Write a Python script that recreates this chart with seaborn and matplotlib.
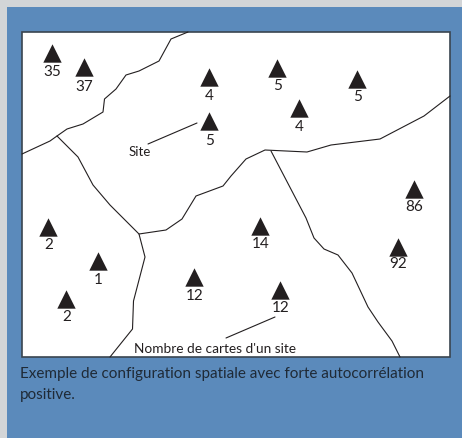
import matplotlib.pyplot as plt
import pandas as pd
import seaborn as sns
from matplotlib.patches import Rectangle

# all positions are in picture pixels, y pointing down
SITE_X = [52, 84, 209, 209, 277, 299, 357, 414, 48, 98, 66, 194, 260, 280, 398]
SITE_Y = [54, 68, 78, 122, 69, 109, 80, 190, 228, 262, 300, 278, 227, 291, 248]
SITE_COUNT = ["35", "37", "4", "5", "5", "4", "5", "86", "2", "1", "2", "12", "14", "12", "92"]
LABEL_Y = [72, 87, 96, 141, 86, 127, 97, 207, 245, 280, 317, 296, 244, 308, 264]

BORDER_A_X = [22, 50, 57, 67, 83, 103, 104.5, 116, 126, 139, 159, 171, 188]
BORDER_A_Y = [155, 142, 137, 130, 125, 113, 100, 90, 76, 72, 62, 40, 33]
BORDER_B_X = [57, 78, 93, 110, 123, 139, 166, 182, 196, 223, 231, 246, 265, 307, 331, 380, 424, 450]
BORDER_B_Y = [137, 158, 186, 206, 219, 235, 231, 220, 197, 187, 177, 160, 151, 153, 146, 140, 117, 97]
BORDER_C_X = [139, 145, 133.5, 132.5, 110]
BORDER_C_Y = [235, 258, 302, 330, 358]
BORDER_D_X = [271, 306, 314, 324, 338, 352, 368, 378, 392, 400]
BORDER_D_Y = [152, 219, 239, 250, 256, 274, 308, 323, 342, 358]

LEADER_SITE_X = [148, 197]
LEADER_SITE_Y = [145, 124]
LEADER_COUNT_X = [226, 275]
LEADER_COUNT_Y = [339, 318]

CAPTION = ["Exemple de configuration spatiale avec forte autocorrélation", "positive."]


def draw_line(ax, xs, ys, width=0.8):
    df = pd.DataFrame({"x": xs, "y": ys})
    sns.lineplot(data=df, x="x", y="y", sort=False, estimator=None, color="#231f20", linewidth=width, ax=ax, zorder=3)


def main():
    sns.set_theme(style="white")
    plt.rcParams["font.family"] = ["Lato", "DejaVu Sans"]

    fig = plt.figure(figsize=(4.62, 4.39), dpi=100, facecolor="#d3d5d7")
    ax = fig.add_axes([0, 0, 1, 1])
    ax.set_xlim(0, 462)
    ax.set_ylim(439, 0)
    ax.axis("off")

    ax.add_patch(Rectangle((7, 8), 455, 431, facecolor="#5b8abb", edgecolor="none", zorder=0))
    ax.add_patch(Rectangle((22, 33), 428, 325, facecolor="white", edgecolor="#3a4550", linewidth=1.2, zorder=1))

    for xs, ys in [(BORDER_A_X, BORDER_A_Y), (BORDER_B_X, BORDER_B_Y), (BORDER_C_X, BORDER_C_Y), (BORDER_D_X, BORDER_D_Y)]:
        draw_line(ax, xs, ys)
    draw_line(ax, LEADER_SITE_X, LEADER_SITE_Y)
    draw_line(ax, LEADER_COUNT_X, LEADER_COUNT_Y)

    sites = pd.DataFrame({"x": SITE_X, "y": SITE_Y})
    sns.scatterplot(data=sites, x="x", y="y", marker="^", s=175, color="#231f20", linewidth=0, ax=ax, zorder=4)

    for x, y, count in zip(SITE_X, LABEL_Y, SITE_COUNT):
        ax.text(x + 0.5, y, count, ha="center", va="center", fontsize=11, color="#231f20", zorder=5)

    ax.text(139.5, 152, "Site", ha="center", va="center", fontsize=9.5, color="#231f20", zorder=5)
    ax.text(215, 349, "Nombre de cartes d'un site", ha="center", va="center", fontsize=9.8, color="#231f20", zorder=5)

    ax.text(20, 374, CAPTION[0], ha="left", va="center", fontsize=11, color="#1f2a36", zorder=5)
    ax.text(20, 395, CAPTION[1], ha="left", va="center", fontsize=11, color="#1f2a36", zorder=5)

    ax.set_xlabel("")
    ax.set_ylabel("")
    fig.savefig("out.png", dpi=100, facecolor=fig.get_facecolor())
    plt.close(fig)


if __name__ == "__main__":
    main()
